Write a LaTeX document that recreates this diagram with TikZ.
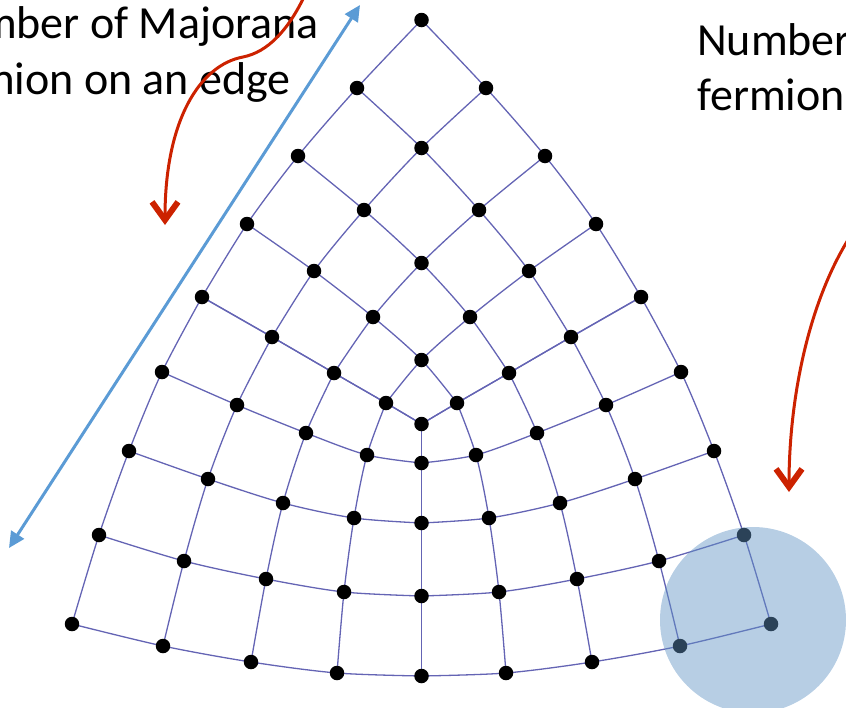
\documentclass[tikz,border=0pt]{standalone}
\usepackage{fontspec}
\setmainfont{Carlito}
\usetikzlibrary{arrows.meta}
\definecolor{gridc}{RGB}{100,100,180}
\definecolor{arrred}{RGB}{204,34,0}
\definecolor{arrblue}{RGB}{91,155,213}
\definecolor{circblue}{RGB}{96,147,196}
\tikzset{
  gl/.style={gridc, line width=1.3pt},
  dot/.style={circle, fill=black, inner sep=0pt, minimum size=14.5pt},
  lbl/.style={inner sep=0pt, anchor=base west, font=\fontsize{46}{56}\selectfont},
  redarrow/.style={arrred, line width=3pt, -{Straight Barb[length=18pt,width=26pt,line width=6pt]}},
  bluearrow/.style={arrblue, line width=3pt, {Triangle[length=16pt,width=15pt]}-{Triangle[length=16pt,width=15pt]}},
}
\begin{document}
\begin{tikzpicture}[x=1pt,y=-1pt]
\useasboundingbox (0,0) rectangle (846,707);
\clip (0,0) rectangle (846,707);

% top patch (mirror symmetric)
\foreach \i/\j/\x/\y in {0/0/421.5/20, 1/0/357/88, 1/1/421.5/148,
  2/0/298/156, 2/1/364/210, 2/2/421.5/263,
  3/0/247/224, 3/1/314/271, 3/2/373/317, 3/3/421.5/360,
  4/0/202/297, 4/1/272/337, 4/2/334/373, 4/3/386/403, 4/4/421.5/424}{
  \coordinate (t\i\j) at (\x,\y);
  \coordinate (t\j\i) at ({843-\x},\y);
}
% left and right lower patches
\foreach \p/\q/\x/\y in {0/0/202/297, 0/1/272/337, 0/2/334/373, 0/3/386/403, 0/4/421.5/424,
  1/0/162/372, 1/1/237/405, 1/2/306/433, 1/3/367/455, 1/4/421.5/463,
  2/0/129/451, 2/1/208/479, 2/2/283/503, 2/3/354/518, 2/4/421.5/523,
  3/0/99/535, 3/1/184/561, 3/2/266/579, 3/3/344/592, 3/4/421.5/596,
  4/0/72/624, 4/1/163/646, 4/2/251/662, 4/3/337/673, 4/4/421.5/676}{
  \coordinate (l\p\q) at (\x,\y);
  \coordinate (r\p\q) at ({843-\x},\y);
}

% grid lines
\foreach \k in {0,...,4}{
  \draw[gl] plot[smooth] coordinates {(t\k0) (t\k1) (t\k2) (t\k3) (t\k4)};
  \draw[gl] plot[smooth] coordinates {(t0\k) (t1\k) (t2\k) (t3\k) (t4\k)};
  \draw[gl] plot[smooth] coordinates {(l\k0) (l\k1) (l\k2) (l\k3) (l\k4)};
  \draw[gl] plot[smooth] coordinates {(l0\k) (l1\k) (l2\k) (l3\k) (l4\k)};
  \draw[gl] plot[smooth] coordinates {(r\k0) (r\k1) (r\k2) (r\k3) (r\k4)};
  \draw[gl] plot[smooth] coordinates {(r0\k) (r1\k) (r2\k) (r3\k) (r4\k)};
}

% dots
\foreach \i in {0,...,4}{
  \foreach \j in {0,...,4}{
    \node[dot] (dt\i\j) at (t\i\j) {};
  }
}
\foreach \p in {1,...,4}{
  \foreach \q in {0,...,4}{
    \node[dot] (dl\p\q) at (l\p\q) {};
  }
  \foreach \q in {0,...,3}{
    \node[dot] (dr\p\q) at (r\p\q) {};
  }
}

% highlighted plaquette
\fill[circblue, opacity=0.45] (753,620) circle[radius=93];

% labels
\node[lbl] (la1) at (-74,38.5) {Number of Majorana};
\node[lbl] (la2) at (-74,94.5) {fermion on an edge};
\node[lbl] (lb1) at (697,55) {Number};
\node[lbl] (lb2) at (697,110) {fermion};

% arrows
\coordinate (ra0) at (304,-3);
\coordinate (ra1) at (243,57);
\coordinate (ra2) at (165,225);
\draw[redarrow] (ra0) .. controls (288,30) and (268,52) .. (ra1)
  .. controls (200,65) and (165,120) .. (ra2);
\coordinate (rb0) at (853,232);
\coordinate (rb1) at (789,492);
\draw[redarrow] (rb0) .. controls (808,300) and (789,400) .. (rb1);
\coordinate (ba) at (9,548);
\coordinate (bb) at (360,5);
\draw[bluearrow] (ba) -- (bb);
\end{tikzpicture}
\end{document}
